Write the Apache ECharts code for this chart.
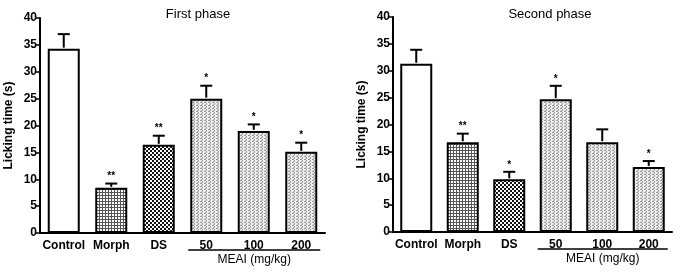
<!DOCTYPE html>
<html>
<head>
<meta charset="utf-8">
<script src="https://cdn.jsdelivr.net/npm/echarts@6/dist/echarts.min.js"></script>
<style>
  html, body { margin: 0; padding: 0; background: #fff; }
  #chart { width: 680px; height: 272px; }
</style>
</head>
<body>
<div id="chart"></div>
<script>
const categories = ["Control", "Morph", "DS", "50", "100", "200"];

const firstMeans = [34.3, 8.4, 16.4, 25.0, 19.0, 15.1];
const firstSem = [2.7, 0.8, 1.7, 2.4, 1.2, 1.7];
const firstStars = ["", "**", "**", "*", "*", "*"];

const secondMeans = [31.3, 16.7, 9.8, 24.7, 16.7, 12.1];
const secondSem = [2.6, 1.6, 1.4, 2.5, 2.4, 1.1];
const secondStars = ["", "**", "*", "*", "", "*"];

const yTicks = [0, 5, 10, 15, 20, 25, 30, 35, 40];

const FONT = "Liberation Sans, Arial, sans-serif";

// fill patterns drawn on small canvases
function makePattern(kind) {
    const c = document.createElement("canvas");
    const ctx = c.getContext("2d");
    if (kind === "grid") {
        c.width = 3; c.height = 3;
        ctx.fillStyle = "#fff";
        ctx.fillRect(0, 0, 3, 3);
        ctx.fillStyle = "#555";
        ctx.fillRect(0, 0, 1, 3);
        ctx.fillRect(0, 0, 3, 1);
    } else if (kind === "checker") {
        c.width = 4; c.height = 4;
        ctx.fillStyle = "#fff";
        ctx.fillRect(0, 0, 4, 4);
        ctx.fillStyle = "#111";
        ctx.fillRect(0, 0, 2, 2);
        ctx.fillRect(2, 2, 2, 2);
    } else if (kind === "dots") {
        c.width = 4; c.height = 3;
        ctx.fillStyle = "#eeeeee";
        ctx.fillRect(0, 0, 4, 3);
        ctx.fillStyle = "#999";
        ctx.fillRect(0, 0, 2, 1);
        ctx.fillRect(2, 1, 1, 1);
        ctx.fillStyle = "#bbb";
        ctx.fillRect(1, 2, 2, 1);
    } else {
        c.width = 2; c.height = 2;
        ctx.fillStyle = "#fff";
        ctx.fillRect(0, 0, 2, 2);
    }
    return { image: c, repeat: "repeat" };
}

const fills = [
    makePattern("white"),
    makePattern("grid"),
    makePattern("checker"),
    makePattern("dots"),
    makePattern("dots"),
    makePattern("dots")
];

function barData(means) {
    return means.map((v, i) => ({
        value: v,
        itemStyle: { color: fills[i] }
    }));
}

function errData(means, sem) {
    return means.map((v, i) => [i, v, +(v + sem[i]).toFixed(2)]);
}

function errSeries(idx, means, sem, stars) {
    return {
        type: "custom",
        xAxisIndex: idx,
        yAxisIndex: idx,
        z: 5,
        data: errData(means, sem),
        renderItem: function (params, api) {
            const base = api.coord([api.value(0), api.value(1)]);
            const top = api.coord([api.value(0), api.value(2)]);
            const cap = 6;
            const children = [
                {
                    type: "line",
                    shape: { x1: base[0], y1: base[1] - 1, x2: top[0], y2: top[1] },
                    style: { stroke: "#000", lineWidth: 2 }
                },
                {
                    type: "line",
                    shape: { x1: top[0] - cap, y1: top[1], x2: top[0] + cap, y2: top[1] },
                    style: { stroke: "#000", lineWidth: 2 }
                }
            ];
            const s = stars[params.dataIndex];
            if (s) {
                children.push({
                    type: "text",
                    x: top[0],
                    y: top[1] - 2,
                    style: {
                        text: s,
                        fill: "#000",
                        font: "bold 10px " + FONT,
                        align: "center",
                        verticalAlign: "bottom"
                    }
                });
            }
            return { type: "group", children: children };
        }
    };
}

function xAxis(idx) {
    return {
        type: "category",
        gridIndex: idx,
        data: categories,
        axisLine: { lineStyle: { color: "#000", width: 2 } },
        axisTick: { show: false },
        axisLabel: {
            color: "#000",
            fontFamily: FONT,
            fontWeight: "bold",
            fontSize: 12,
            margin: 7,
            interval: 0
        }
    };
}

function yAxis(idx) {
    return {
        type: "value",
        gridIndex: idx,
        min: yTicks[0],
        max: yTicks[yTicks.length - 1],
        interval: 5,
        name: "Licking time (s)",
        nameLocation: "middle",
        nameGap: 25,
        nameRotate: 90,
        nameTextStyle: {
            color: "#000",
            fontFamily: FONT,
            fontWeight: "bold",
            fontSize: 12
        },
        splitLine: { show: false },
        axisLine: { show: true, lineStyle: { color: "#000", width: 2 } },
        axisTick: { show: true, length: 4, lineStyle: { color: "#000", width: 1.5 } },
        axisLabel: {
            color: "#000",
            fontFamily: FONT,
            fontWeight: "bold",
            fontSize: 12,
            margin: 3
        }
    };
}

const chart = echarts.init(document.getElementById("chart"));

chart.setOption({
    animation: false,
    title: [
        {
            text: "First phase",
            left: 193, top: 3,
            textAlign: "center",
            textStyle: { fontFamily: FONT, fontWeight: "normal", fontSize: 13, color: "#000" }
        },
        {
            text: "Second phase",
            left: 545, top: 3,
            textAlign: "center",
            textStyle: { fontFamily: FONT, fontWeight: "normal", fontSize: 13, color: "#000" }
        }
    ],
    grid: [
        { left: 40, top: 18, width: 285, height: 215, containLabel: false },
        { left: 393, top: 17, width: 279, height: 215, containLabel: false }
    ],
    xAxis: [xAxis(0), xAxis(1)],
    yAxis: [yAxis(0), yAxis(1)],
    series: [
        {
            type: "bar",
            xAxisIndex: 0, yAxisIndex: 0,
            barWidth: 32,
            data: barData(firstMeans),
            itemStyle: { borderColor: "#000", borderWidth: 2 }
        },
        {
            type: "bar",
            xAxisIndex: 1, yAxisIndex: 1,
            barWidth: 32,
            data: barData(secondMeans),
            itemStyle: { borderColor: "#000", borderWidth: 2 }
        },
        errSeries(0, firstMeans, firstSem, firstStars),
        errSeries(1, secondMeans, secondSem, secondStars)
    ]
});

// "MEAI (mg/kg)" group bracket under the dose categories
function doseBracket(idx) {
    const a = chart.convertToPixel({ xAxisIndex: idx }, "50");
    const b = chart.convertToPixel({ xAxisIndex: idx }, "200");
    const y0 = chart.convertToPixel({ yAxisIndex: idx }, 0);
    const x1 = a - 18, x2 = b + 19;
    return [
        {
            type: "line",
            shape: { x1: x1, y1: y0 + 17, x2: x2, y2: y0 + 17 },
            style: { stroke: "#000", lineWidth: 1.5 }
        },
        {
            type: "text",
            x: (x1 + x2) / 2,
            y: y0 + 21,
            style: {
                text: "MEAI (mg/kg)",
                font: "12px " + FONT,
                fill: "#000",
                align: "center",
                verticalAlign: "top"
            }
        }
    ];
}

chart.setOption({
    graphic: doseBracket(0).concat(doseBracket(1))
});
</script>
</body>
</html>
